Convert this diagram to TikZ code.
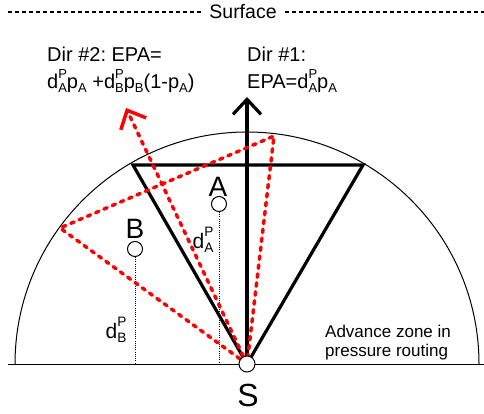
\documentclass[tikz,border=0pt]{standalone}
\usepackage{fontspec}
\setmainfont{Liberation Sans}
\usetikzlibrary{arrows.meta}
\frenchspacing
\newcommand\lowsub[1]{\raisebox{-0.4ex}{\scalebox{0.65}{#1}}}
\newcommand\dP[1]{d\makebox[0pt][l]{\raisebox{1.0ex}{\scalebox{0.65}{P}}}\lowsub{#1}}
\begin{document}
\begin{tikzpicture}[x=1pt,y=1pt,
  thinline/.style={line width=1pt},
  thickline/.style={line width=3.2pt},
  reddash/.style={red, line width=3.5pt, line cap=round, dash pattern=on 3.5pt off 5.5pt},
  dotline/.style={line width=0.8pt, dash pattern=on 1pt off 1.2pt},
  ptnode/.style={circle, draw, fill=white, minimum size=15pt, inner sep=0pt, line width=1pt},
  biglbl/.style={inner sep=0pt, font=\fontsize{28}{28}\selectfont},
  dlbl/.style={inner sep=0pt, font=\fontsize{21}{21}\selectfont},
  txt/.style={inner sep=0pt, align=left, font=\fontsize{20}{27}\selectfont},
  tip/.style={-{Straight Barb[length=15pt,width=28pt]}},
]
\useasboundingbox (0,0) rectangle (484,413);
% surface
\node[inner sep=0pt, font=\fontsize{19.5}{19.5}\selectfont] (surf) at (243,401) {Surface};
\coordinate (sl) at (8,401);
\coordinate (sr) at (484,401);
\draw[line width=2.2pt, dash pattern=on 4pt off 3pt] (sl) -- ([xshift=-8pt]surf.west);
\draw[line width=2.2pt, dash pattern=on 4pt off 3pt] ([xshift=8pt]surf.east) -- (sr);
% ground
\coordinate (S0) at (247,49);
\coordinate (gl) at (8,49);
\coordinate (gr) at (484,49);
\draw[thinline] (gl) -- (gr);
\draw[thinline] (15,49) arc (180:0:232pt);
% black triangle
\coordinate (T1) at (133,248);
\coordinate (T2) at (363,248);
\draw[thickline, line join=miter] (S0) -- (T1) -- (T2) -- cycle;
\coordinate (up) at (247,316);
\draw[thickline, tip] (S0) -- (up);
% red
\coordinate (R1) at (60,185);
\coordinate (R2) at (274,277);
\coordinate (rt) at (126,305);
\draw[reddash] (S0) -- (R1) -- (R2) -- cycle;
\draw[reddash, tip] (S0) -- (rt);
% points
\node[ptnode] (A) at (219,209) {};
\node[ptnode] (B) at (135,164) {};
\coordinate (Ag) at (219,49);
\coordinate (Bg) at (135,49);
\draw[dotline] (A.south) -- (Ag);
\draw[dotline] (B.south) -- (Bg);
\node[biglbl] (Alab) at (218,226) {A};
\node[biglbl] (Blab) at (135,184) {B};
\node[dlbl] (dA) at (203,173) {\dP{A}};
\node[dlbl] (dB) at (116,83) {\dP{B}};
\node[ptnode, minimum size=16pt] (S) at (S0) {};
\node[inner sep=0pt, font=\fontsize{32}{32}\selectfont] (Slab) at (248,18) {S};
% texts
\node[txt, anchor=north west] (dir2) at (47,366) {Dir \#2: EPA=\\\dP{A}p\lowsub{A} +\dP{B}p\lowsub{B}(1-p\lowsub{A})};
\node[txt, anchor=north west] (dir1) at (247,366) {Dir \#1:\\EPA=\dP{A}p\lowsub{A}};
\node[inner sep=0pt, align=left, anchor=north west, font=\fontsize{17}{19}\selectfont] (adv) at (325,88) {Advance zone in\\pressure routing};
\end{tikzpicture}
\end{document}
